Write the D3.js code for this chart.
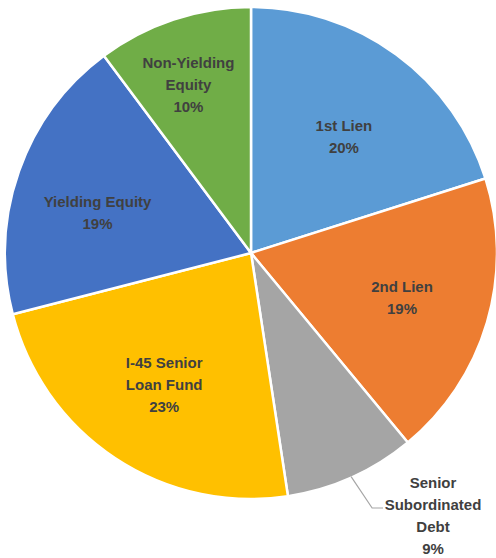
<!DOCTYPE html>
<html>
<head>
<meta charset="utf-8">
<script src="https://cdn.jsdelivr.net/npm/d3@7"></script>
<style>
  body { margin: 0; background: #fff; }
  #chart { width: 496px; height: 558px; }
</style>
</head>
<body>
<div id="chart"></div>
<script>
const categories = ["1st Lien", "2nd Lien", "Senior Subordinated Debt", "I-45 Senior Loan Fund", "Yielding Equity", "Non-Yielding Equity"];
const values = [20.1, 18.9, 8.6, 23.4, 18.8, 10.2];
// how each label is broken into lines
const labelLines = [["1st Lien"], ["2nd Lien"], ["Senior", "Subordinated", "Debt"], ["I-45 Senior", "Loan Fund"], ["Yielding Equity"], ["Non-Yielding", "Equity"]];
const colors = ["#5b9bd5", "#ed7d31", "#a5a5a5", "#ffc000", "#4472c4", "#70ad47"];

const width = 496, height = 558;
const cx = 251, cy = 253, radius = 246;

// small nudges [dx, dy] so labels sit where the original puts them
const nudge = { "1st Lien": [0, 11], "Yielding Equity": [-5, 12], "Non-Yielding Equity": [-13, -19] };

const svg = d3.select("#chart")
  .append("svg")
  .attr("width", width)
  .attr("height", height)
  .style("font-family", "'Liberation Sans', Arial, sans-serif");

const g = svg.append("g").attr("transform", `translate(${cx},${cy})`);

const data = categories.map((name, i) => ({ name, value: values[i], lines: labelLines[i], i }));
const total = d3.sum(values);

const pie = d3.pie().sort(null).value((d) => d.value);
const arcs = pie(data);

const arc = d3.arc().innerRadius(0).outerRadius(radius);
const labelArc = d3.arc().innerRadius(radius * 0.64).outerRadius(radius * 0.64);

g.selectAll("path")
  .data(arcs)
  .join("path")
  .attr("d", arc)
  .attr("fill", (d) => colors[d.data.i])
  .attr("stroke", "#fff")
  .attr("stroke-width", 2.5)
  .attr("stroke-linejoin", "round");

const lineH = 22;
const fmt = (v) => Math.round(v / total * 100) + "%";

arcs.forEach((d) => {
  const all = d.data.lines.concat([fmt(d.data.value)]);
  let x, y;
  if (d.data.name === "Senior Subordinated Debt") {
    // outside label with leader line
    const mid = (d.startAngle + d.endAngle) / 2;
    const px = Math.sin(mid) * (radius - 1), py = -Math.cos(mid) * (radius - 1);
    x = 182; y = 230;
    g.append("polyline")
      .attr("points", [[px, py], [px + 21, 255], [132, 255]].map((p) => p.join(",")).join(" "))
      .attr("fill", "none")
      .attr("stroke", "#a6a6a6")
      .attr("stroke-width", 1.2);
  } else {
    [x, y] = labelArc.centroid(d);
    y -= (all.length - 1) * lineH / 2;
    const n = nudge[d.data.name] || [0, 0];
    x += n[0];
    y += n[1];
  }
  const t = g.append("text")
    .attr("text-anchor", "middle")
    .attr("font-size", 15)
    .attr("font-weight", "bold")
    .attr("fill", "#404040");
  all.forEach((s, k) => {
    t.append("tspan")
      .attr("x", x)
      .attr("y", y + k * lineH)
      .attr("dy", "0.35em")
      .text(s);
  });
});
</script>
</body>
</html>
